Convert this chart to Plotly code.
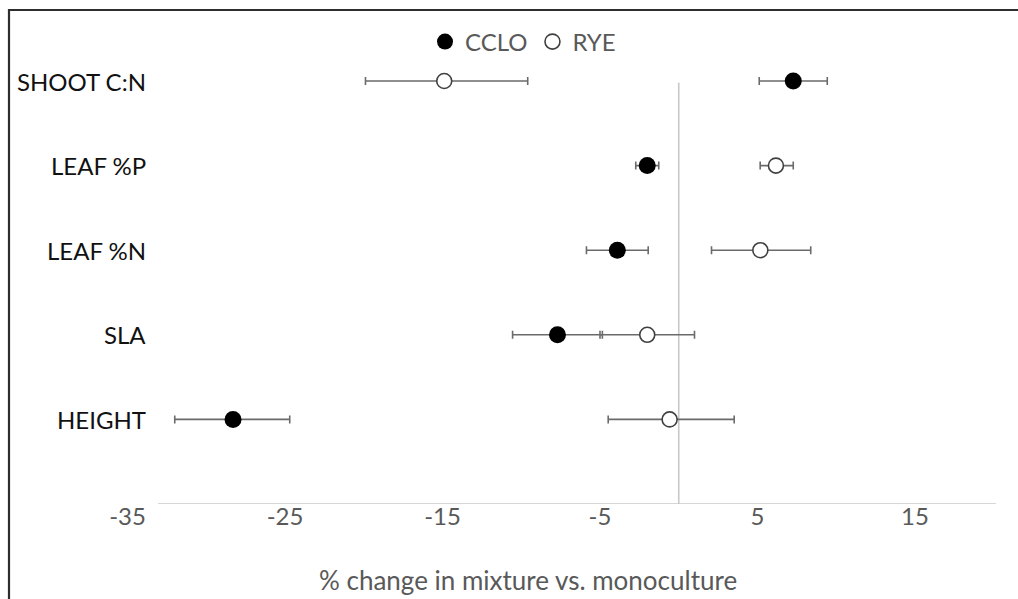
import plotly.graph_objects as go

# Traits, bottom to top
traits = ["HEIGHT", "SLA", "LEAF %N", "LEAF %P", "SHOOT C:N"]
trait_pos = [1, 2, 3, 4, 5]

# % change in mixture vs. monoculture, with error bar extents
cclo_val = [-28.3, -7.7, -3.9, -2.0, 7.27]
cclo_err_minus = [3.7, 2.85, 1.96, 0.73, 2.16]
cclo_err_plus = [3.6, 2.85, 1.96, 0.73, 2.16]

rye_val = [-0.58, -2.0, 5.18, 6.17, -14.89]
rye_err_minus = [3.9, 3.0, 3.1, 1.0, 5.0]
rye_err_plus = [4.1, 3.0, 3.2, 1.1, 5.3]

x_ticks = [-35, -25, -15, -5, 5, 15]
x_tick_text = ["-35", "-25", "-15", "-5", "5", "15"]
x_title = "% change in mixture vs. monoculture"

FONT = "Lato"
GREY_TXT = "#595959"
AXIS_CLR = "#c8c8c8"
ERR_CLR = "#6b6b6b"

W, H = 1018, 599
# pixel layout of the plotting area
PX_PER_UNIT = 15.75
ZERO_PX = 678.75
L_PX, R_PX = 108.0, 1010.0
Y0_PX = 504.0
PX_PER_ROW = 84.6
T_PX = 30.0

x_lo = (L_PX - ZERO_PX) / PX_PER_UNIT
x_hi = (R_PX - ZERO_PX) / PX_PER_UNIT
y_hi = (Y0_PX - T_PX) / PX_PER_ROW
pw = R_PX - L_PX
ph = Y0_PX - T_PX

fig = go.Figure()

fig.add_trace(go.Scatter(
    x=cclo_val, y=trait_pos, mode="markers", name="CCLO",
    marker=dict(size=17, color="black", line=dict(width=0)),
    error_x=dict(type="data", symmetric=False, array=cclo_err_plus,
                 arrayminus=cclo_err_minus, color=ERR_CLR, thickness=1.6, width=4),
))
fig.add_trace(go.Scatter(
    x=rye_val, y=trait_pos, mode="markers", name="RYE",
    marker=dict(size=15, color="white", line=dict(width=1.6, color="#404040")),
    error_x=dict(type="data", symmetric=False, array=rye_err_plus,
                 arrayminus=rye_err_minus, color=ERR_CLR, thickness=1.6, width=4),
))

# zero reference line and horizontal axis line
fig.add_shape(type="line", x0=0, x1=0, y0=0, y1=4.98, xref="x", yref="y",
              line=dict(color=AXIS_CLR, width=1.6), layer="below")
fig.add_shape(type="line", x0=(158 - ZERO_PX) / PX_PER_UNIT,
              x1=(996 - ZERO_PX) / PX_PER_UNIT, y0=0, y1=0, xref="x", yref="y",
              line=dict(color=AXIS_CLR, width=1.6), layer="below")

# trait labels
for name, pos in zip(traits, trait_pos):
    fig.add_annotation(x=(148 - ZERO_PX) / PX_PER_UNIT, y=pos, xref="x", yref="y",
                       text=name, showarrow=False, xanchor="right", yanchor="middle",
                       font=dict(family=FONT, size=24, color="#111111"))

# horizontal axis title
fig.add_annotation(x=(528 - L_PX) / pw, y=(Y0_PX - 580) / ph, xref="paper", yref="paper",
                   text=x_title, showarrow=False, xanchor="center", yanchor="middle",
                   font=dict(family=FONT, size=26, color=GREY_TXT))

# outer frame
fig.add_shape(type="rect", xref="paper", yref="paper",
              x0=(9 - L_PX) / pw, x1=(W + 20 - L_PX) / pw,
              y0=(Y0_PX - (H + 20)) / ph, y1=(Y0_PX - 10) / ph,
              line=dict(color="#2e2e2e", width=2.2), fillcolor="rgba(0,0,0,0)")

fig.update_layout(
    width=W, height=H,
    margin=dict(l=L_PX, r=W - R_PX, t=T_PX, b=H - Y0_PX, autoexpand=False),
    paper_bgcolor="white", plot_bgcolor="white",
    showlegend=True,
    legend=dict(orientation="h", x=(523 - L_PX) / pw, xanchor="center",
                y=(Y0_PX - 42) / ph, yanchor="middle",
                font=dict(family=FONT, size=24, color=GREY_TXT),
                itemwidth=30, bgcolor="rgba(0,0,0,0)", tracegroupgap=0),
    xaxis=dict(range=[x_lo, x_hi], tickvals=x_ticks, ticktext=x_tick_text,
               showgrid=False, zeroline=False, ticklabelstandoff=-4,
               showline=False, ticks="", tickfont=dict(family=FONT, size=24, color=GREY_TXT)),
    yaxis=dict(range=[0, y_hi], showgrid=False, zeroline=False, showline=False,
               showticklabels=False, ticks=""),
)

fig.write_html("out.html")
